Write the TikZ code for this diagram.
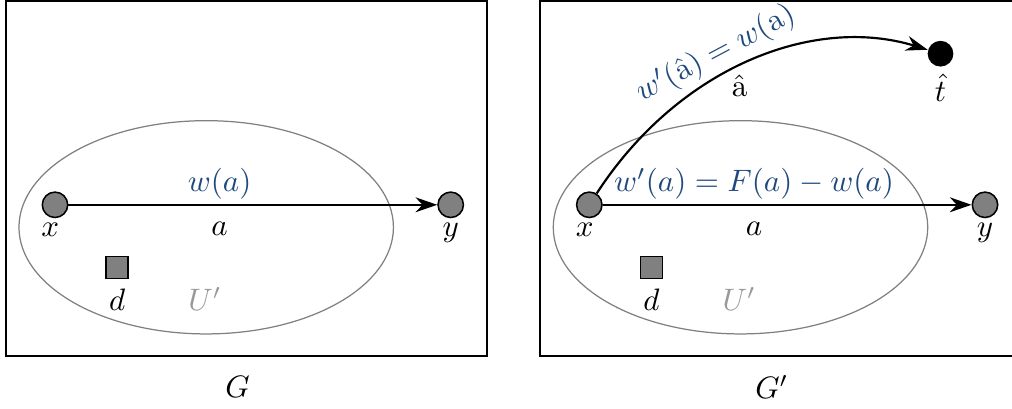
\documentclass[tikz,border=0pt]{standalone}
\usetikzlibrary{arrows.meta}
\definecolor{lblue}{RGB}{31,73,125}
\begin{document}
\begin{tikzpicture}[x=0.3226pt,y=0.3226pt,
  vert/.style={circle,draw=black,fill=gray,minimum size=8.2pt,inner sep=0pt,line width=0.5pt},
  term/.style={circle,fill=black,minimum size=8.3pt,inner sep=0pt},
  sq/.style={rectangle,draw=black,fill=gray,minimum size=7.1pt,inner sep=0pt,line width=0.5pt},
  frame/.style={draw=black,line width=0.5pt},
  region/.style={draw=gray,line width=0.4pt},
  arr/.style={-{Stealth[length=7pt,width=4.8pt]},line width=0.7pt},
  wlab/.style={text=lblue,inner sep=1.5pt},
  elab/.style={inner sep=5.4pt},
  nlab/.style={inner sep=1.3pt},
  ulab/.style={text=black!40},
]
\useasboundingbox (0,0) rectangle (1012,408);
% ---------- left panel G ----------
\draw[frame] (6,407.2) rectangle (487,52);
\draw[region] (206.2,180.7) ellipse [x radius=60.4pt, y radius=34.4pt];
\node[vert,label={[nlab,xshift=-1.5pt]below:$x$}] (xL) at (55,203.2) {};
\node[vert,label={[nlab]below:$y$}] (yL) at (450.7,203.2) {};
\node[sq,label={[inner sep=2.9pt]below:$d$}] (dL) at (117.2,140.5) {};
\node[ulab] (uL) at (205,109) {$U'$};
\node (gL) at (237.5,21) {$G$};
\draw[arr] (xL) -- node[pos=0.41,above,wlab]{$w(a)$} node[pos=0.41,below,elab]{$a$} (yL);
% ---------- right panel G' ----------
\draw[frame] (1013,407.2) -- (540,407.2) -- (540,52) -- (1013,52);
\draw[region] (740.5,180.7) ellipse [x radius=60.4pt, y radius=34.4pt];
\node[vert,label={[nlab,xshift=-1.5pt]below:$x$}] (xR) at (589.3,203.2) {};
\node[vert,label={[nlab]below:$y$}] (yR) at (985,203.2) {};
\node[term,label={[inner sep=2pt]below:$\hat{t}$}] (tR) at (940.5,354.3) {};
\node[sq,label={[inner sep=2.9pt]below:$d$}] (dR) at (651.5,140.5) {};
\node[ulab] (uR) at (739.3,109) {$U'$};
\node (gR) at (771.8,21) {$G'$};
\draw[arr] (xR) -- node[pos=0.41,above,wlab]{$w'(a) = F(a) - w(a)$} node[pos=0.41,below,elab]{$a$} (yR);
\draw[arr] (xR) to[out=57,in=163,out distance=48.4pt,in distance=38.7pt]
  node[pos=0.43,above,sloped,wlab]{$w'(\hat{\mathrm{a}}) = w(\mathrm{a})$}
  node[pos=0.47,below,inner sep=2.6pt]{$\hat{\mathrm{a}}$} (tR);
\end{tikzpicture}
\end{document}
